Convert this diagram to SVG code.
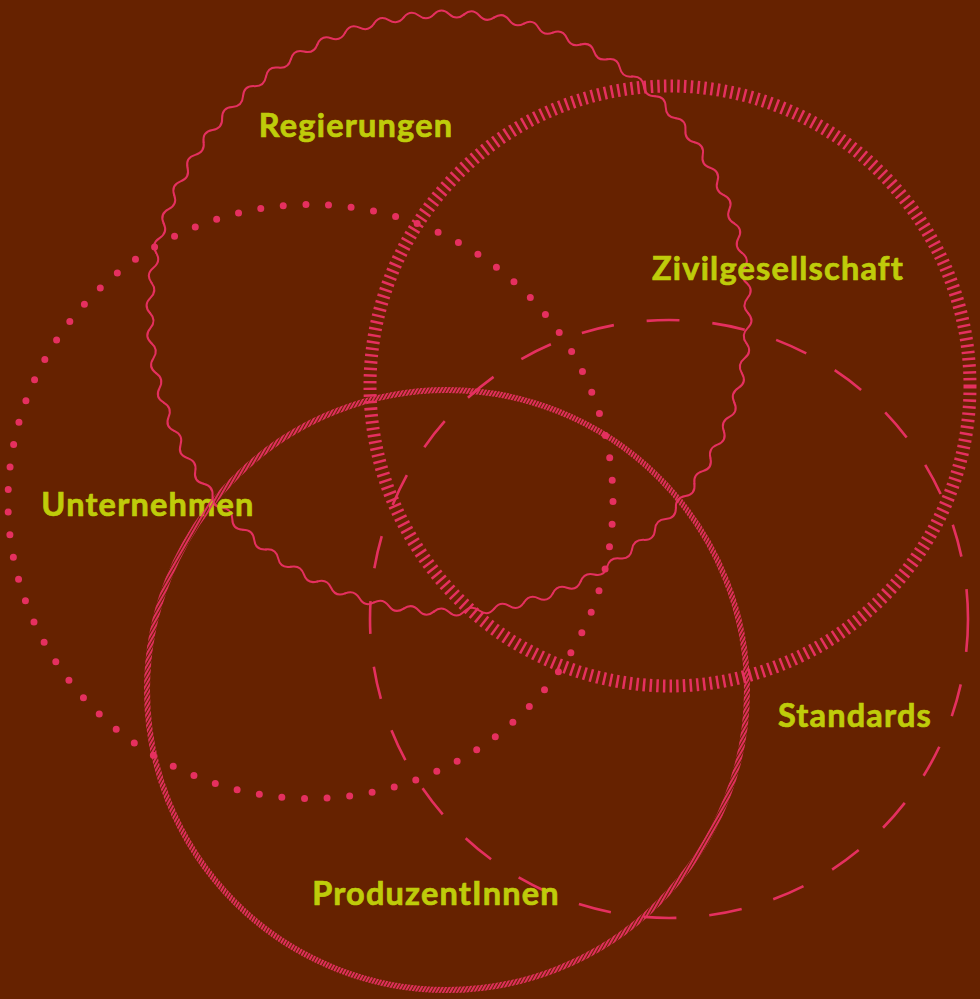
<svg xmlns="http://www.w3.org/2000/svg" xmlns:xlink="http://www.w3.org/1999/xlink" width="980" height="999" viewBox="0 0 980 999">
<defs>
<style>
.lbl{font-family:Lato,"Open Sans","Liberation Sans",sans-serif;font-weight:bold;font-size:32.5px;letter-spacing:1.2px;fill:#bfcc0a;stroke:#bfcc0a;stroke-width:0.7px;text-anchor:middle}
.ring{fill:none;stroke:#e5305f}
</style>
<pattern id="hatch" width="3" height="3" patternUnits="userSpaceOnUse" patternTransform="rotate(30)">
<rect width="1.9" height="3" fill="#e5305f"/>
</pattern>
<path id="w" d="M-15.14,-298.62 C-10.1,-303.67 -5.05,-303.67 0,-299 C5.05,-294.33 10.1,-294.33 15.14,-298.62" fill="none" stroke="#e5305f" stroke-width="2" stroke-linecap="round"/>
</defs>
<rect width="980" height="999" fill="#662200"/>
<g id="connectors"/>
<g id="regierungen">
<g transform="translate(449,313)">
<use xlink:href="#w" transform="rotate(0)"/><use xlink:href="#w" transform="rotate(5.806)"/><use xlink:href="#w" transform="rotate(11.613)"/><use xlink:href="#w" transform="rotate(17.419)"/><use xlink:href="#w" transform="rotate(23.226)"/><use xlink:href="#w" transform="rotate(29.032)"/><use xlink:href="#w" transform="rotate(34.839)"/><use xlink:href="#w" transform="rotate(40.645)"/><use xlink:href="#w" transform="rotate(46.452)"/><use xlink:href="#w" transform="rotate(52.258)"/>
<use xlink:href="#w" transform="rotate(58.065)"/><use xlink:href="#w" transform="rotate(63.871)"/><use xlink:href="#w" transform="rotate(69.677)"/><use xlink:href="#w" transform="rotate(75.484)"/><use xlink:href="#w" transform="rotate(81.290)"/><use xlink:href="#w" transform="rotate(87.097)"/><use xlink:href="#w" transform="rotate(92.903)"/><use xlink:href="#w" transform="rotate(98.710)"/><use xlink:href="#w" transform="rotate(104.516)"/><use xlink:href="#w" transform="rotate(110.323)"/>
<use xlink:href="#w" transform="rotate(116.129)"/><use xlink:href="#w" transform="rotate(121.935)"/><use xlink:href="#w" transform="rotate(127.742)"/><use xlink:href="#w" transform="rotate(133.548)"/><use xlink:href="#w" transform="rotate(139.355)"/><use xlink:href="#w" transform="rotate(145.161)"/><use xlink:href="#w" transform="rotate(150.968)"/><use xlink:href="#w" transform="rotate(156.774)"/><use xlink:href="#w" transform="rotate(162.581)"/><use xlink:href="#w" transform="rotate(168.387)"/>
<use xlink:href="#w" transform="rotate(174.194)"/><use xlink:href="#w" transform="rotate(180)"/><use xlink:href="#w" transform="rotate(185.806)"/><use xlink:href="#w" transform="rotate(191.613)"/><use xlink:href="#w" transform="rotate(197.419)"/><use xlink:href="#w" transform="rotate(203.226)"/><use xlink:href="#w" transform="rotate(209.032)"/><use xlink:href="#w" transform="rotate(214.839)"/><use xlink:href="#w" transform="rotate(220.645)"/><use xlink:href="#w" transform="rotate(226.452)"/>
<use xlink:href="#w" transform="rotate(232.258)"/><use xlink:href="#w" transform="rotate(238.065)"/><use xlink:href="#w" transform="rotate(243.871)"/><use xlink:href="#w" transform="rotate(249.677)"/><use xlink:href="#w" transform="rotate(255.484)"/><use xlink:href="#w" transform="rotate(261.290)"/><use xlink:href="#w" transform="rotate(267.097)"/><use xlink:href="#w" transform="rotate(272.903)"/><use xlink:href="#w" transform="rotate(278.710)"/><use xlink:href="#w" transform="rotate(284.516)"/>
<use xlink:href="#w" transform="rotate(290.323)"/><use xlink:href="#w" transform="rotate(296.129)"/><use xlink:href="#w" transform="rotate(301.935)"/><use xlink:href="#w" transform="rotate(307.742)"/><use xlink:href="#w" transform="rotate(313.548)"/><use xlink:href="#w" transform="rotate(319.355)"/><use xlink:href="#w" transform="rotate(325.161)"/><use xlink:href="#w" transform="rotate(330.968)"/><use xlink:href="#w" transform="rotate(336.774)"/><use xlink:href="#w" transform="rotate(342.581)"/>
<use xlink:href="#w" transform="rotate(348.387)"/><use xlink:href="#w" transform="rotate(354.194)"/>
</g>
<text class="lbl" x="356" y="137">Regierungen</text>
</g>
<g id="zivilgesellschaft">
<circle class="ring" cx="670" cy="386" r="300" stroke-width="13" stroke-dasharray="2.5 4.2"/>
<text class="lbl" x="778" y="280">Zivilgesellschaft</text>
</g>
<g id="unternehmen">
<ellipse class="ring" cx="310.5" cy="501.5" rx="302.5" ry="297" stroke-width="7" stroke-linecap="round" stroke-dasharray="0 22.7"/>
<text class="lbl" x="148" y="516">Unternehmen</text>
</g>
<g id="standards">
<circle class="ring" cx="669" cy="619" r="299" stroke-width="2.6" stroke-dasharray="33 33"/>
<text class="lbl" x="855" y="727">Standards</text>
</g>
<g id="produzentinnen">
<circle cx="447" cy="690" r="300" fill="none" stroke="url(#hatch)" stroke-width="6"/>
<text class="lbl" x="436" y="905">ProduzentInnen</text>
</g>
</svg>
